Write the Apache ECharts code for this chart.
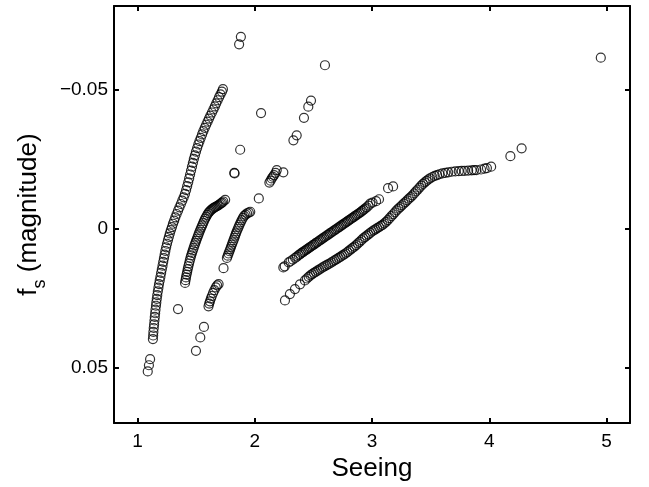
<!DOCTYPE html>
<html>
<head>
<meta charset="utf-8">
<script src="https://cdn.jsdelivr.net/npm/echarts@6/dist/echarts.min.js"></script>
<style>
  html, body { margin: 0; padding: 0; background: #fff; }
  #chart { width: 649px; height: 487px; }
</style>
</head>
<body>
<div id="chart"></div>
<script>
// tick positions
var xTicks = [1, 2, 3, 4, 5];
var yTicks = [-0.05, 0, 0.05];

// steep strand on the left (seeing, f_s)
var stripA = [
  [1.088, 0.0514], [1.098, 0.0492], [1.108, 0.0470],
  [1.132, 0.0398], [1.134, 0.0385], [1.136, 0.0372], [1.139, 0.0358], [1.142, 0.0345], [1.145, 0.0331],
  [1.148, 0.0318], [1.151, 0.0305], [1.154, 0.0292], [1.158, 0.0278], [1.161, 0.0266], [1.165, 0.0253],
  [1.169, 0.0240], [1.174, 0.0226], [1.179, 0.0213], [1.184, 0.0200], [1.190, 0.0187], [1.196, 0.0174],
  [1.202, 0.0160], [1.208, 0.0147], [1.214, 0.0134], [1.220, 0.0120], [1.226, 0.0107], [1.232, 0.0094],
  [1.238, 0.0081], [1.245, 0.0068], [1.252, 0.0055], [1.260, 0.0042], [1.268, 0.0030], [1.276, 0.0018],
  [1.285, 0.0006], [1.294, -0.0005], [1.303, -0.0017], [1.313, -0.0028], [1.323, -0.0040], [1.334, -0.0052],
  [1.346, -0.0064], [1.358, -0.0076], [1.370, -0.0088], [1.382, -0.0100], [1.394, -0.0112], [1.405, -0.0124],
  [1.415, -0.0138], [1.424, -0.0152], [1.433, -0.0166], [1.441, -0.0180], [1.449, -0.0194], [1.457, -0.0208],
  [1.465, -0.0222], [1.473, -0.0236], [1.481, -0.0250], [1.490, -0.0263], [1.499, -0.0276], [1.509, -0.0289],
  [1.519, -0.0302], [1.529, -0.0314], [1.540, -0.0326], [1.551, -0.0338], [1.562, -0.0350], [1.574, -0.0362],
  [1.586, -0.0373], [1.598, -0.0384], [1.610, -0.0395], [1.622, -0.0406], [1.635, -0.0417], [1.648, -0.0428],
  [1.660, -0.0439], [1.672, -0.0450], [1.684, -0.0461], [1.696, -0.0472], [1.708, -0.0482], [1.720, -0.0492],
  [1.729, -0.0501]
];

// hook-shaped strand
var hookB = [
  [1.406, 0.0196], [1.410, 0.0186], [1.414, 0.0176], [1.419, 0.0166], [1.424, 0.0156], [1.429, 0.0146],
  [1.434, 0.0136], [1.440, 0.0126], [1.446, 0.0116], [1.452, 0.0106], [1.458, 0.0097], [1.465, 0.0088],
  [1.472, 0.0079], [1.479, 0.0070], [1.486, 0.0061], [1.493, 0.0053], [1.500, 0.0045], [1.507, 0.0037],
  [1.514, 0.0029], [1.521, 0.0021], [1.528, 0.0013], [1.536, 0.0005], [1.544, -0.0003], [1.552, -0.0011],
  [1.560, -0.0019], [1.568, -0.0027], [1.577, -0.0035], [1.586, -0.0042], [1.595, -0.0049], [1.604, -0.0055],
  [1.613, -0.0060], [1.622, -0.0064], [1.632, -0.0068], [1.642, -0.0071], [1.652, -0.0074], [1.662, -0.0077],
  [1.672, -0.0079], [1.682, -0.0081], [1.692, -0.0084], [1.702, -0.0087], [1.712, -0.0090], [1.722, -0.0093],
  [1.732, -0.0097], [1.748, -0.0103]
];

// third short strand
var strandC = [
  [1.606, 0.0280], [1.612, 0.0270], [1.618, 0.0262], [1.626, 0.0252], [1.634, 0.0243], [1.645, 0.0232],
  [1.656, 0.0222], [1.668, 0.0212], [1.680, 0.0205], [1.692, 0.0200], [1.734, 0.0143],
  [1.763, 0.0106], [1.770, 0.0098], [1.777, 0.0090], [1.784, 0.0082], [1.791, 0.0074], [1.798, 0.0066],
  [1.805, 0.0058], [1.812, 0.0050], [1.819, 0.0042], [1.826, 0.0034], [1.833, 0.0026], [1.840, 0.0018],
  [1.847, 0.0010], [1.855, 0.0002], [1.863, -0.0006], [1.871, -0.0014], [1.880, -0.0022], [1.889, -0.0030],
  [1.899, -0.0038], [1.910, -0.0045], [1.922, -0.0050], [1.935, -0.0054], [1.950, -0.0057], [1.962, -0.0060]
];

// lower right curve
var curveD = [
  [2.258, 0.0259], [2.300, 0.0236], [2.343, 0.0218], [2.386, 0.0201], [2.428, 0.0187], [2.445, 0.0180],
  [2.460, 0.0174], [2.475, 0.0169], [2.490, 0.0164], [2.505, 0.0160], [2.520, 0.0156], [2.535, 0.0152],
  [2.550, 0.0148], [2.565, 0.0144], [2.580, 0.0140], [2.595, 0.0136], [2.610, 0.0133], [2.625, 0.0129],
  [2.640, 0.0126], [2.655, 0.0122], [2.670, 0.0118], [2.685, 0.0114], [2.700, 0.0110], [2.715, 0.0106],
  [2.730, 0.0102], [2.745, 0.0098], [2.760, 0.0094], [2.775, 0.0090], [2.790, 0.0085], [2.805, 0.0080],
  [2.820, 0.0075], [2.835, 0.0070], [2.850, 0.0065], [2.865, 0.0060], [2.880, 0.0054], [2.895, 0.0048],
  [2.910, 0.0042], [2.925, 0.0036], [2.940, 0.0031], [2.955, 0.0026], [2.970, 0.0021], [2.985, 0.0016],
  [3.000, 0.0011], [3.015, 0.0007], [3.030, 0.0003], [3.045, -0.0001], [3.060, -0.0005], [3.075, -0.0009],
  [3.090, -0.0013], [3.105, -0.0018], [3.120, -0.0024], [3.135, -0.0030], [3.150, -0.0037], [3.165, -0.0044],
  [3.180, -0.0051], [3.195, -0.0058], [3.210, -0.0065], [3.225, -0.0071], [3.240, -0.0077], [3.255, -0.0083],
  [3.270, -0.0089], [3.285, -0.0095], [3.300, -0.0101], [3.315, -0.0107], [3.330, -0.0113], [3.345, -0.0119],
  [3.360, -0.0126], [3.375, -0.0133], [3.390, -0.0140], [3.405, -0.0147], [3.420, -0.0154], [3.435, -0.0160],
  [3.450, -0.0166], [3.465, -0.0171], [3.480, -0.0176], [3.495, -0.0180], [3.515, -0.0185], [3.535, -0.0189],
  [3.555, -0.0192], [3.575, -0.0195], [3.600, -0.0198], [3.625, -0.0200], [3.650, -0.0202], [3.680, -0.0204],
  [3.710, -0.0205], [3.740, -0.0206], [3.765, -0.0207], [3.790, -0.0207], [3.820, -0.0208], [3.850, -0.0209],
  [3.870, -0.0210], [3.890, -0.0210], [3.930, -0.0212], [3.960, -0.0215], [3.980, -0.0217], [4.016, -0.0222]
];

// upper right straight strand
var lineE = [
  [2.244, 0.0140], [2.256, 0.0136], [2.290, 0.0122], [2.305, 0.0118], [2.325, 0.0112], [2.345, 0.0106],
  [2.360, 0.0101], [2.375, 0.0096], [2.388, 0.0092], [2.400, 0.0088], [2.412, 0.0085], [2.424, 0.0081],
  [2.436, 0.0078], [2.448, 0.0074], [2.460, 0.0071], [2.472, 0.0067], [2.484, 0.0064], [2.496, 0.0060],
  [2.508, 0.0057], [2.520, 0.0053], [2.532, 0.0050], [2.544, 0.0046], [2.556, 0.0043], [2.568, 0.0039],
  [2.580, 0.0036], [2.592, 0.0032], [2.604, 0.0029], [2.616, 0.0025], [2.628, 0.0022], [2.640, 0.0018],
  [2.652, 0.0015], [2.664, 0.0011], [2.676, 0.0008], [2.688, 0.0004], [2.700, 0.0001], [2.712, -0.0003],
  [2.724, -0.0006], [2.736, -0.0010], [2.748, -0.0013], [2.760, -0.0017], [2.772, -0.0020], [2.784, -0.0024],
  [2.796, -0.0027], [2.808, -0.0031], [2.820, -0.0034], [2.832, -0.0038], [2.844, -0.0041], [2.856, -0.0045],
  [2.868, -0.0048], [2.880, -0.0052], [2.892, -0.0055], [2.904, -0.0059], [2.916, -0.0063], [2.928, -0.0067],
  [2.940, -0.0071], [2.955, -0.0076], [2.970, -0.0082], [2.985, -0.0089], [3.005, -0.0093], [3.035, -0.0098],
  [3.060, -0.0105], [3.137, -0.0145], [3.180, -0.0151]
];

// scattered single points
var loose = [
  [1.346, 0.0290], [1.499, 0.0440], [1.536, 0.0392], [1.567, 0.0354],
  [1.826, -0.0200], [1.828, -0.0198], [1.876, -0.0283], [1.867, -0.0662], [1.882, -0.0689],
  [2.054, -0.0415], [2.035, -0.0108],
  [2.125, -0.0165], [2.135, -0.0172], [2.145, -0.0180], [2.155, -0.0186], [2.165, -0.0192], [2.178, -0.0200],
  [2.188, -0.0210], [2.244, -0.0202],
  [2.330, -0.0317], [2.358, -0.0335], [2.420, -0.0398], [2.457, -0.0438], [2.480, -0.0460], [2.599, -0.0587],
  [4.180, -0.0260], [4.276, -0.0288], [4.951, -0.0614]
];

var allPoints = [].concat(stripA, hookB, strandC, curveD, lineE, loose);

var font = 'Liberation Sans, Arial, Helvetica, sans-serif';

function tickLabel(v) {
  if (Math.abs(v) < 1e-9) return '0';
  var s = Math.abs(v).toFixed(2);
  return v < 0 ? '\u2212' + s : s;
}

function makeX(pos, withLabels) {
  return {
    type: 'value', position: pos, min: 0.8, max: 5.2,
    axisLine: { show: true, onZero: false, lineStyle: { color: '#000', width: 2 } },
    axisTick: { show: true, inside: true, length: 5, customValues: xTicks, lineStyle: { color: '#000', width: 2 } },
    axisLabel: { show: withLabels, customValues: xTicks, margin: 9, color: '#000', fontSize: 19, fontFamily: font },
    splitLine: { show: false },
    name: withLabels ? 'Seeing' : '', nameLocation: 'middle', nameGap: 27,
    nameTextStyle: { color: '#000', fontSize: 26, fontFamily: font }
  };
}

function makeY(pos, withLabels) {
  return {
    type: 'value', position: pos, min: -0.08, max: 0.07, inverse: true,
    axisLine: { show: true, onZero: false, lineStyle: { color: '#000', width: 2 } },
    axisTick: { show: true, inside: true, length: 5, customValues: yTicks, lineStyle: { color: '#000', width: 2 } },
    axisLabel: { show: withLabels, customValues: yTicks, margin: 6, color: '#000', fontSize: 19, fontFamily: font, formatter: tickLabel },
    splitLine: { show: false },
    name: withLabels ? '{a|f}{s|s}{a| (magnitude)}' : '', nameLocation: 'middle', nameGap: 66, nameRotate: 90,
    nameTextStyle: {
      color: '#000', fontFamily: font,
      rich: {
        a: { fontSize: 26, lineHeight: 28, color: '#000', fontFamily: font },
        s: { fontSize: 18, lineHeight: 18, padding: [23, 0, 0, 0], color: '#000', fontFamily: font }
      }
    }
  };
}

var chart = echarts.init(document.getElementById('chart'), null, { renderer: 'canvas' });
chart.setOption({
  animation: false,
  backgroundColor: '#fff',
  grid: { left: 113, right: 19, top: 6, bottom: 60 },
  xAxis: [makeX('bottom', true), makeX('top', false)],
  yAxis: [makeY('left', true), makeY('right', false)],
  series: [{
    type: 'scatter',
    data: allPoints,
    symbol: 'circle',
    symbolSize: 9,
    itemStyle: { color: 'rgba(0,0,0,0)', borderColor: '#000', borderWidth: 1.2 }
  }]
});
</script>
</body>
</html>
